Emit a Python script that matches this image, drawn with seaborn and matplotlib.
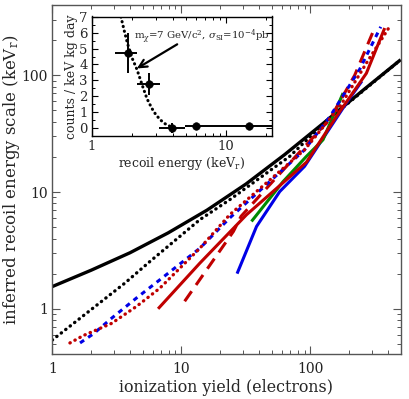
import numpy as np
import pandas as pd
import matplotlib
matplotlib.use("Agg")
import matplotlib.pyplot as plt
import seaborn as sns
from matplotlib.ticker import LogLocator, NullFormatter, MultipleLocator

# ---------------- data ----------------
black_solid_x = [1, 2, 4, 7.9, 15.8, 31.6, 63, 126, 251, 500]
black_solid_y = [1.55, 2.14, 3.02, 4.47, 7.0, 11.7, 20.9, 38.9, 73.3, 136]

black_dot_x = [1, 3.65, 5.7, 13.9, 23.7, 69, 133, 500]
black_dot_y = [0.54, 1.66, 2.54, 5.8, 8.6, 20.2, 40.5, 136]

blue_dash_x = [1.64, 2.08, 2.88, 4.5, 6.8, 13.9, 23.7, 90, 141, 240, 350]
blue_dash_y = [0.51, 0.61, 0.83, 1.24, 1.77, 3.3, 6.0, 23, 44, 112, 260]

red_dot_x = [1.37, 1.74, 2.88, 4.5, 6.8, 13.9, 23.7, 90, 169, 271, 400]
red_dot_y = [0.51, 0.59, 0.75, 1.05, 1.5, 3.3, 6.4, 23, 54, 127, 250]

red_solid_x = [6.6, 13.9, 32, 93, 159, 271, 376]
red_solid_y = [1.0, 2.46, 6.4, 18, 44.5, 104, 254]

red_dash_x = [10.6, 25.3, 29, 60, 141, 220, 314]
red_dash_y = [1.16, 4.6, 6.2, 15, 42, 100, 254]

blue_solid_x = [27, 38.2, 57.8, 90, 190, 250]
blue_solid_y = [2.0, 5.07, 10.1, 16.6, 58, 89]

green_x = [34.9, 61.4, 93, 125, 179]
green_y = [5.6, 12.3, 20.2, 28, 70.5]

# inset
curve_x = [1.65, 1.75, 1.85, 2.0, 2.17, 2.4, 2.58, 2.8, 3.0, 3.24, 3.5, 3.9, 4.3]
curve_y = [7.0, 6.1, 5.3, 4.4, 3.7, 2.6, 1.85, 1.25, 0.85, 0.52, 0.28, 0.08, 0.0]

pts_x = [1.85, 2.67, 3.95, 6.0, 14.9]
pts_y = [4.72, 2.77, 0.0, 0.1, 0.1]
pts_xlo = [1.5, 2.19, 3.15, 4.95, 7.6]
pts_xhi = [2.19, 3.2, 4.95, 7.6, 30]
pts_yerr = [1.25, 0.7, 0.3, 0.05, 0.05]

xticks_main = [1, 10, 100]
yticks_main = [1, 10, 100]
inset_yticks = [0, 1, 2, 3, 4, 5, 6, 7]

# ---------------- style ----------------
sns.set_style("ticks")
plt.rcParams['font.family'] = ['DejaVu Serif']
plt.rcParams['mathtext.fontset'] = 'dejavuserif'

RED = '#c00000'
BLUE = '#0000e6'
GREEN = '#008a00'
GREY = '#555555'

fig = plt.figure(figsize=(4.09, 3.99), dpi=100)
ax = fig.add_axes([52.3/409, 45/399, (400.7-52.3)/409, (354-5)/399])

def line(x, y, color, ls, lw=2.2, cap='round'):
    df = pd.DataFrame({'x': x, 'y': y})
    sns.lineplot(data=df, x='x', y='y', ax=ax, color=color, lw=lw,
                 sort=False, estimator=None)
    l = ax.lines[-1]
    l.set_linestyle(ls)
    l.set_dash_capstyle(cap)
    l.set_solid_capstyle('butt')
    return l

line(black_solid_x, black_solid_y, 'black', '-', lw=2.4)
line(black_dot_x, black_dot_y, 'black', (0, (0.1, 1.6)), lw=2.4)
line(blue_solid_x, blue_solid_y, BLUE, '-')
line(green_x, green_y, GREEN, '-')
line(red_solid_x, red_solid_y, RED, '-')
line(red_dash_x, red_dash_y, RED, (0, (4, 2.5)), cap='butt')
line(blue_dash_x, blue_dash_y, BLUE, (0, (1.6, 1.6)), cap='butt')
line(red_dot_x, red_dot_y, RED, (0, (0.1, 1.6)), lw=2.4)

ax.set_xscale('log')
ax.set_yscale('log')
ax.set_xlim(1, 500)
ax.set_ylim(0.41, 400)
ax.set_xticks(xticks_main)
ax.set_xticklabels([str(v) for v in xticks_main])
ax.set_yticks(yticks_main)
ax.set_yticklabels([str(v) for v in yticks_main])
ax.xaxis.set_minor_locator(LogLocator(base=10, subs=np.arange(2, 10)))
ax.yaxis.set_minor_locator(LogLocator(base=10, subs=np.arange(2, 10)))
ax.xaxis.set_minor_formatter(NullFormatter())
ax.yaxis.set_minor_formatter(NullFormatter())
ax.tick_params(which='both', direction='in', top=True, right=True, color=GREY,
               labelsize=10, labelcolor='#222222')
ax.tick_params(axis='x', pad=6)
ax.tick_params(axis='y', pad=3)
ax.tick_params(which='major', length=6, width=0.8)
ax.tick_params(which='minor', length=3, width=0.7)
for s in ax.spines.values():
    s.set_color(GREY)
    s.set_linewidth(1.0)
ax.set_xlabel('ionization yield (electrons)', fontsize=11.4, labelpad=2)
ax.set_ylabel(r'inferred recoil energy scale (keV$_{\rm r}$)', fontsize=12)
ax.yaxis.set_label_coords(-0.088, 0.5)

# ---------------- inset ----------------
ins = fig.add_axes([91.7/409, (399-136)/399, (272-91.7)/409, (136-16.5)/399])
ins.set_facecolor('white')
cdf = pd.DataFrame({'x': curve_x, 'y': curve_y})
sns.lineplot(data=cdf, x='x', y='y', ax=ins, color='black', lw=2.2,
             sort=False, estimator=None)
ins.lines[-1].set_linestyle((0, (0.1, 1.5)))
ins.lines[-1].set_dash_capstyle('round')

xerr = [np.array(pts_x) - np.array(pts_xlo), np.array(pts_xhi) - np.array(pts_x)]
ins.errorbar(pts_x, pts_y, xerr=xerr, yerr=pts_yerr, fmt='none',
             ecolor='black', elinewidth=1.4, capsize=0)
sns.scatterplot(x=pts_x, y=pts_y, ax=ins, color='black', s=30, edgecolor='black',
                zorder=5, legend=False)

ins.set_xscale('log')
ins.set_xlim(1, 22)
ins.set_ylim(-0.5, 7.02)
ins.set_xticks([1, 10])
ins.set_xticklabels(['1', '10'])
ins.xaxis.set_minor_locator(LogLocator(base=10, subs=np.arange(2, 10)))
ins.xaxis.set_minor_formatter(NullFormatter())
ins.set_yticks(inset_yticks)
ins.yaxis.set_minor_locator(MultipleLocator(0.5))
ins.tick_params(which='both', direction='in', top=True, right=True,
                labelsize=9.5, pad=3, color='black')
ins.tick_params(which='major', length=4, width=0.8)
ins.tick_params(which='minor', length=2.5, width=0.7)
for s in ins.spines.values():
    s.set_color('black')
    s.set_linewidth(1.0)
ins.set_xlabel(r'recoil energy (keV$_{\rm r}$)', fontsize=9, labelpad=1)
ins.set_ylabel('counts / keV kg day', fontsize=9, labelpad=1)

ins.annotate('', xy=(2.17, 3.75), xytext=(4.33, 5.27),
             arrowprops=dict(arrowstyle='->', color='black', lw=1.6,
                             shrinkA=0, shrinkB=0, mutation_scale=14))
ins.text(2.05, 5.77, r'm$_\chi$=7 GeV/c$^2$, $\sigma_{\rm SI}$=10$^{-4}$pb',
         fontsize=7.3, va='center', ha='left')

fig.savefig('out.png', dpi=100)
